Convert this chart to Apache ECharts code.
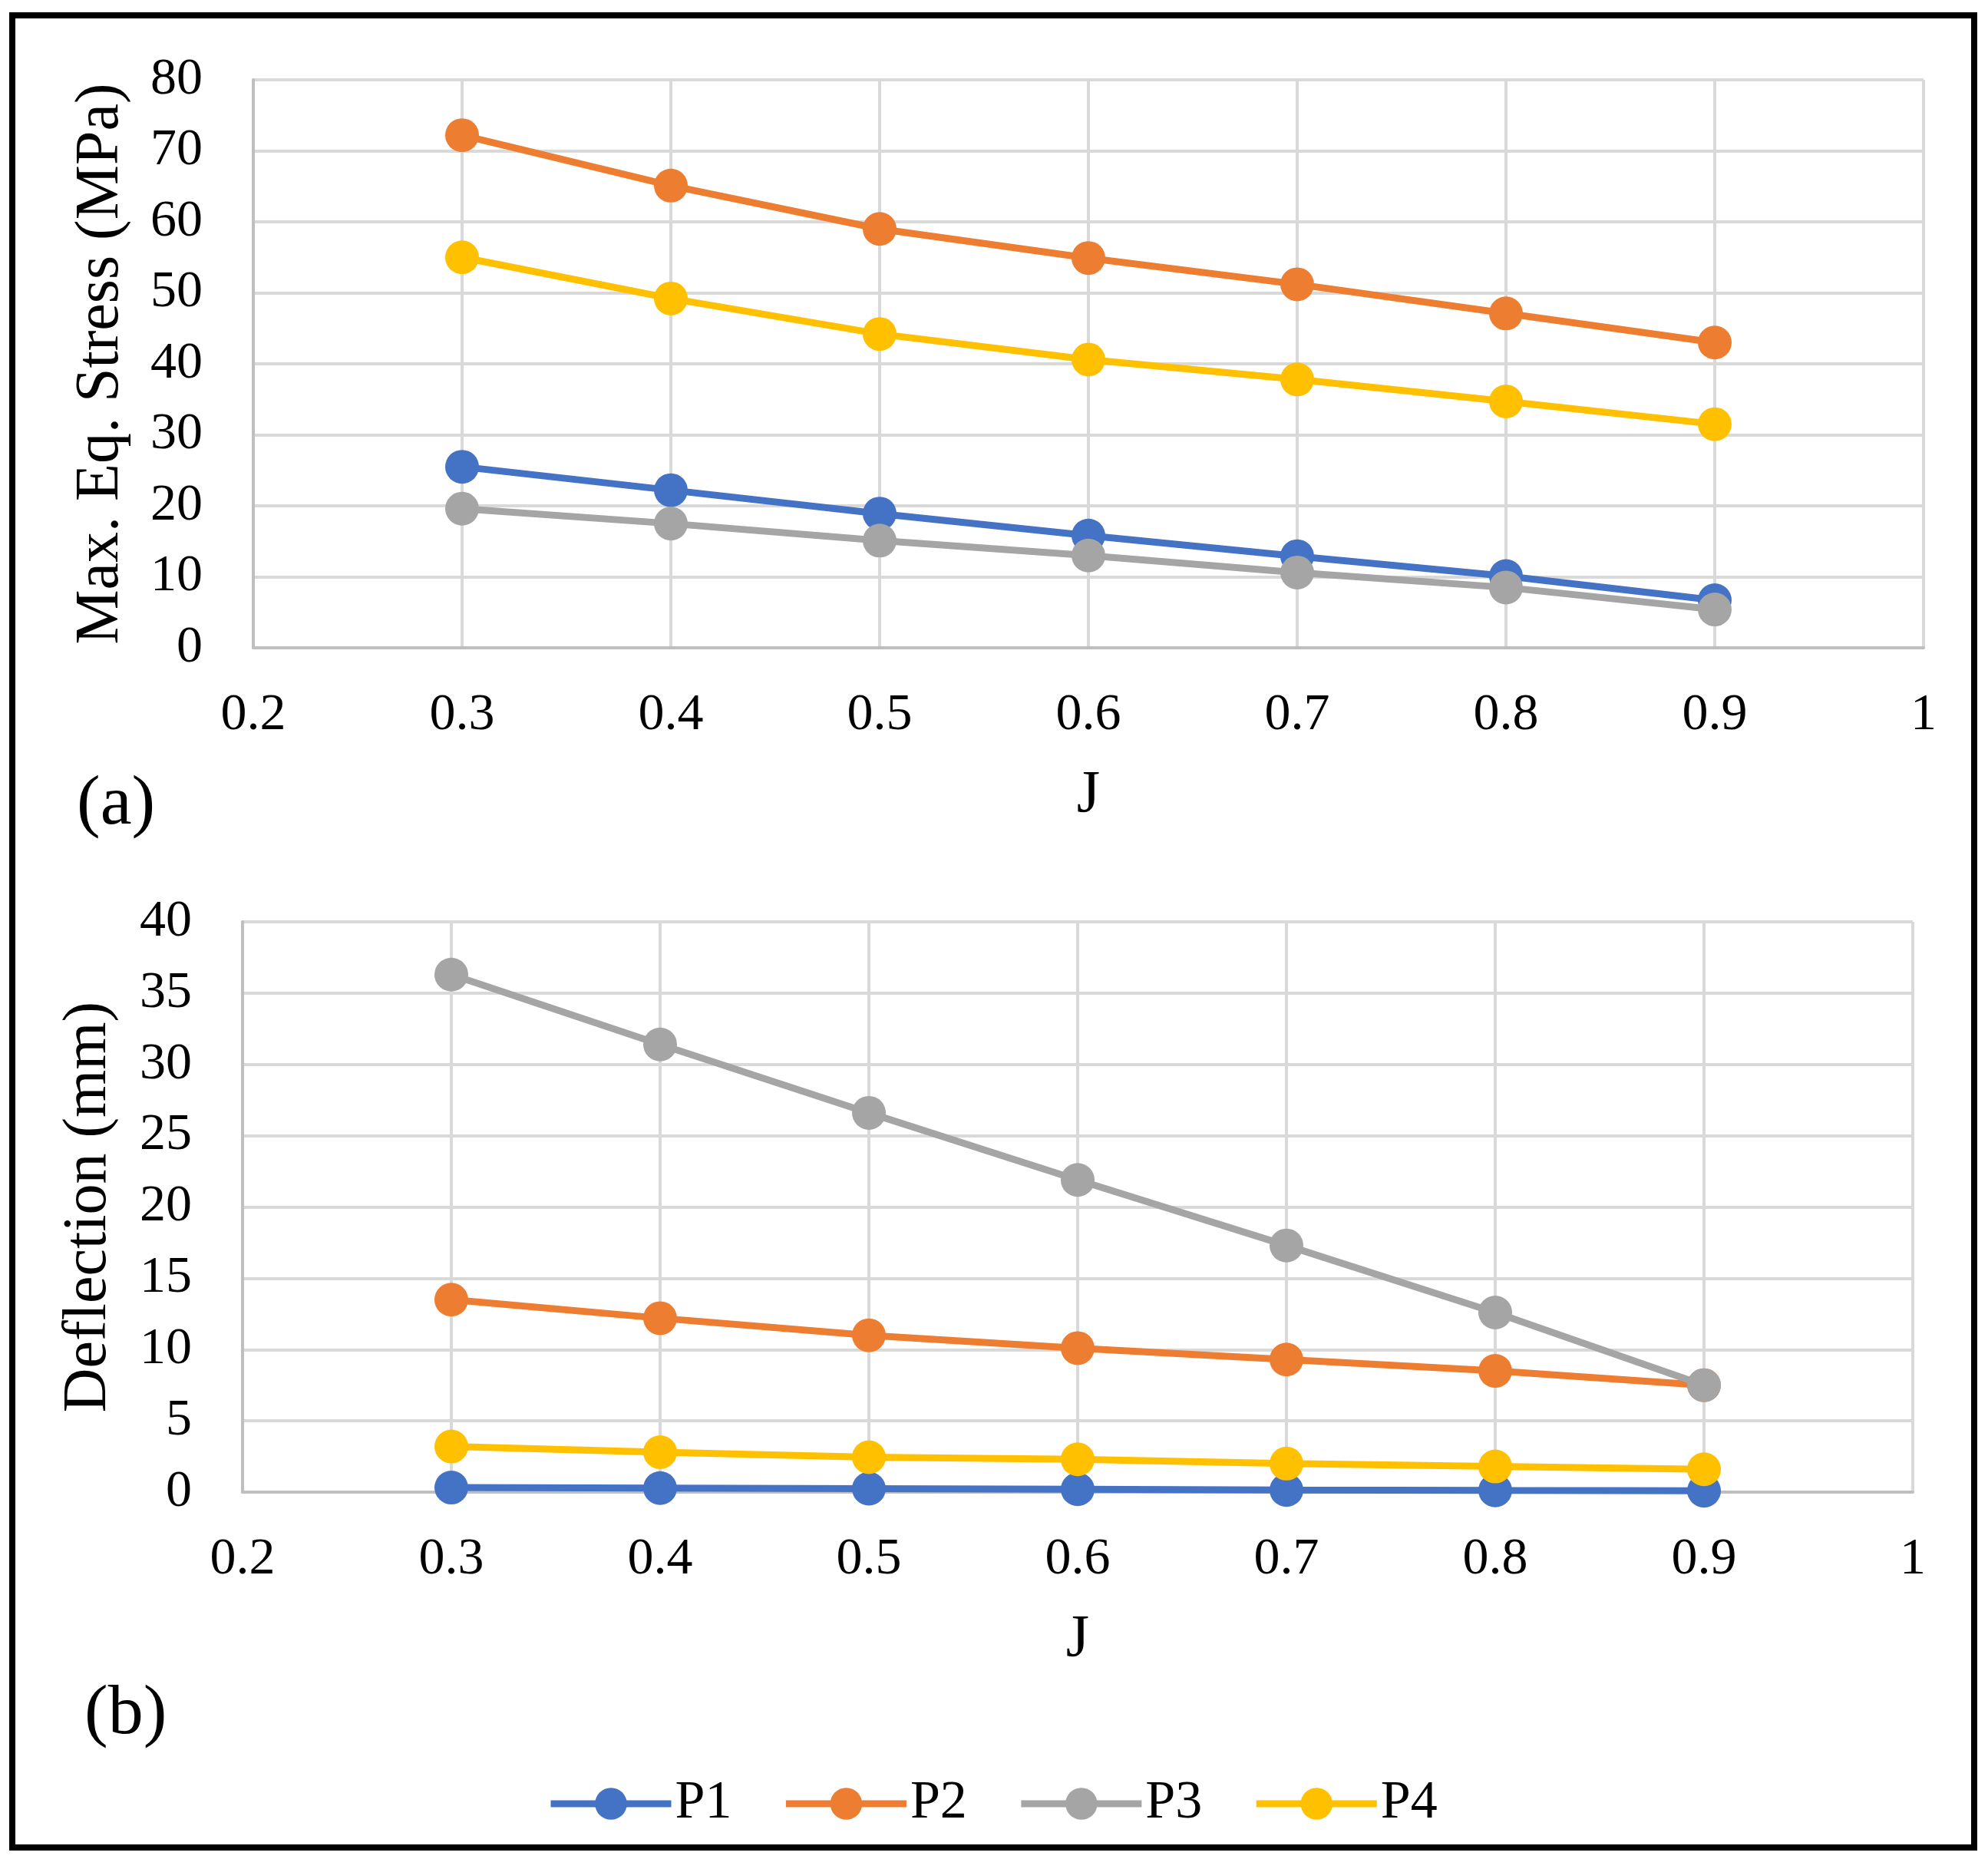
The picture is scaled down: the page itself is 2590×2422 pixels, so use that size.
<!DOCTYPE html>
<html>
<head>
<meta charset="utf-8">
<script src="https://cdn.jsdelivr.net/npm/echarts@6/dist/echarts.min.js"></script>
<style>
  html, body { margin: 0; padding: 0; background: #fff; }
  #chart { width: 2590px; height: 2422px; }
</style>
</head>
<body>
<div id="chart"></div>
<script>
// J values (x axis)
var jValues = [0.3, 0.4, 0.5, 0.6, 0.7, 0.8, 0.9];
var seriesNames = ["P1", "P2", "P3", "P4"];
var colors = ["#4472C4", "#ED7D31", "#A5A5A5", "#FFC000"];

// (a) Max. Eq. Stress (MPa)
var stressP1 = [25.5, 22.2, 18.9, 15.8, 12.9, 10.1, 6.7];
var stressP2 = [72.2, 65.1, 59.0, 54.9, 51.2, 47.1, 43.0];
var stressP3 = [19.6, 17.5, 15.1, 13.0, 10.6, 8.5, 5.4];
var stressP4 = [55.0, 49.2, 44.2, 40.6, 37.8, 34.7, 31.5];

// (b) Deflection (mm)
var deflP1 = [0.32, 0.28, 0.24, 0.2, 0.15, 0.12, 0.1];
var deflP2 = [13.5, 12.2, 11.0, 10.1, 9.3, 8.5, 7.5];
var deflP3 = [36.3, 31.4, 26.6, 21.9, 17.3, 12.6, 7.5];
var deflP4 = [3.2, 2.8, 2.45, 2.3, 2.0, 1.8, 1.6];

var stressData = [stressP1, stressP2, stressP3, stressP4];
var deflData = [deflP1, deflP2, deflP3, deflP4];

var font = "'Liberation Serif', 'Times New Roman', serif";

function pairs(vals) {
  return jValues.map(function (j, i) { return [j, vals[i]]; });
}

function makeX(gridIndex) {
  return {
    type: "value",
    gridIndex: gridIndex,
    min: 0.2,
    max: 1,
    interval: 0.1,
    name: "J",
    nameLocation: "middle",
    nameGap: 154,
    nameTextStyle: { fontFamily: font, fontSize: 78, color: "#000" },
    axisLine: { show: true, lineStyle: { color: "#BFBFBF", width: 4 } },
    axisTick: { show: false },
    axisLabel: { fontFamily: font, fontSize: 68, color: "#000", margin: 54 },
    splitLine: { show: true, lineStyle: { color: "#D9D9D9", width: 4 } },
  };
}

function makeY(gridIndex, max, interval, name, gap) {
  return {
    type: "value",
    gridIndex: gridIndex,
    min: 0,
    max: max,
    interval: interval,
    name: name,
    nameLocation: "middle",
    nameGap: gap,
    nameTextStyle: { fontFamily: font, fontSize: 80, color: "#000" },
    axisLine: { show: true, lineStyle: { color: "#BFBFBF", width: 4 } },
    axisTick: { show: false },
    axisLabel: { fontFamily: font, fontSize: 68, color: "#000", margin: 66 },
    splitLine: { show: true, lineStyle: { color: "#D9D9D9", width: 4 } },
  };
}

var series = [];
seriesNames.forEach(function (name, k) {
  series.push({
    name: name,
    type: "line",
    xAxisIndex: 0,
    yAxisIndex: 0,
    data: pairs(stressData[k]),
    symbol: "circle",
    symbolSize: 44,
    lineStyle: { width: 9, color: colors[k] },
    itemStyle: { color: colors[k] },
    z: 2 + k,
  });
});
seriesNames.forEach(function (name, k) {
  series.push({
    name: name,
    type: "line",
    xAxisIndex: 1,
    yAxisIndex: 1,
    data: pairs(deflData[k]),
    symbol: "circle",
    symbolSize: 44,
    lineStyle: { width: 9, color: colors[k] },
    itemStyle: { color: colors[k] },
    z: 2 + k,
  });
});

var chart = echarts.init(document.getElementById("chart"), null, { renderer: "canvas" });

var option = {
  backgroundColor: "#fff",
  animation: false,
  color: colors,
  grid: [
    { left: 330, right: 84, top: 104, height: 740 },
    { left: 316, right: 98, top: 1201, height: 743 },
  ],
  xAxis: [makeX(0), makeX(1)],
  yAxis: [
    makeY(0, 80, 10, "Max. Eq. Stress (MPa)", 158),
    makeY(1, 40, 5, "Deflection (mm)", 160),
  ],
  legend: {
    data: seriesNames,
    left: 708,
    top: 2310,
    itemWidth: 157,
    itemHeight: 52,
    itemGap: 66,
    lineStyle: { width: 9 },
    textStyle: { fontFamily: font, fontSize: 70, color: "#000" },
  },
  graphic: [
    {
      type: "rect",
      shape: { x: 16, y: 20, width: 2556, height: 2387 },
      style: { fill: "none", stroke: "#000", lineWidth: 8 },
    },
    {
      type: "text",
      x: 100,
      y: 1049,
      style: { text: "(a)", font: "92px 'Liberation Serif', serif", fill: "#000", verticalAlign: "middle" },
    },
    {
      type: "text",
      x: 110,
      y: 2234,
      style: { text: "(b)", font: "92px 'Liberation Serif', serif", fill: "#000", verticalAlign: "middle" },
    },
  ],
  series: series,
};

chart.setOption(option);

window.addEventListener("resize", function () {
  chart.resize();
});
</script>
</body>
</html>
